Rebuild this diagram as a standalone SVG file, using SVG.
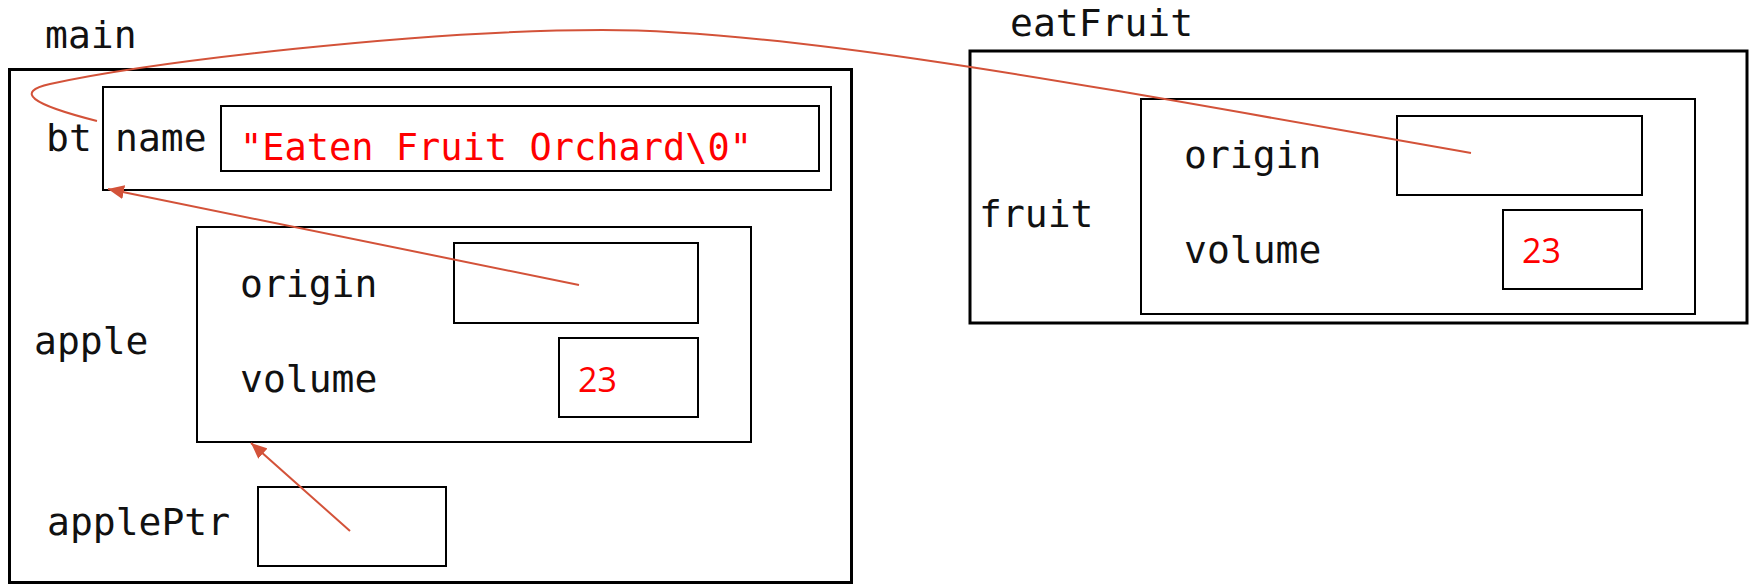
<svg xmlns="http://www.w3.org/2000/svg" width="1749" height="584" viewBox="0 0 1749 584">
<style>
.lbl{font-family:"DejaVu Sans Mono","Liberation Mono",monospace;font-size:38px;fill:#111}
.str{font-family:"DejaVu Sans Mono","Liberation Mono",monospace;font-size:38px;fill:#ff0000}
.num{font-family:"Open Sans","Noto Sans",sans-serif;font-size:34px;fill:#ff0000}
.frame{fill:none;stroke:#000;stroke-width:3}
.box{fill:none;stroke:#000;stroke-width:2}
.ptr{fill:none;stroke:#d35239;stroke-width:2}
</style>
<defs>
<marker id="ah" markerUnits="userSpaceOnUse" markerWidth="18" markerHeight="14" refX="16" refY="7" orient="auto">
<path d="M0,0 L16,7 L0,14 Z" fill="#d35239"/>
</marker>
</defs>
<rect width="1749" height="584" fill="#fff"/>
<g id="main">
<text class="lbl" x="45" y="48">main</text>
<rect class="frame" x="9.5" y="69.5" width="842" height="513"/>
</g>
<g id="bt">
<text class="lbl" x="46" y="151">bt</text>
<rect class="box" x="103" y="87" width="728" height="103"/>
<text class="lbl" x="115" y="151">name</text>
<rect class="box" x="221" y="106" width="598" height="65"/>
<text class="str" x="240" y="160" textLength="512" lengthAdjust="spacingAndGlyphs">"Eaten Fruit Orchard\0"</text>
</g>
<g id="apple">
<text class="lbl" x="34" y="354">apple</text>
<rect class="box" x="197" y="227" width="554" height="215"/>
<text class="lbl" x="240" y="297">origin</text>
<rect class="box" x="454" y="243" width="244" height="80"/>
<text class="lbl" x="240" y="392">volume</text>
<rect class="box" x="559" y="338" width="139" height="79"/>
<text class="num" x="578" y="392">23</text>
</g>
<g id="applePtr">
<text class="lbl" x="47" y="535">applePtr</text>
<rect class="box" x="258" y="487" width="188" height="79"/>
</g>
<g id="eatFruit">
<text class="lbl" x="1010" y="36">eatFruit</text>
<rect class="frame" x="970" y="51" width="777" height="272"/>
</g>
<g id="fruit">
<text class="lbl" x="979" y="227">fruit</text>
<rect class="box" x="1141" y="99" width="554" height="215"/>
<text class="lbl" x="1184" y="168">origin</text>
<rect class="box" x="1397" y="116" width="245" height="79"/>
<text class="lbl" x="1184" y="263">volume</text>
<rect class="box" x="1503" y="210" width="139" height="79"/>
<text class="num" x="1522" y="263">23</text>
</g>
<g id="connectors">
<path class="ptr" d="M350,531 L251,443" marker-end="url(#ah)"/>
<path class="ptr" d="M579,285 L108,189" marker-end="url(#ah)"/>
<path class="ptr" d="M1471,153 C1100,88 800,30 602,30 C420,30 150,62 50,84 C15,92 30,104 97,121"/>
</g>
</svg>
